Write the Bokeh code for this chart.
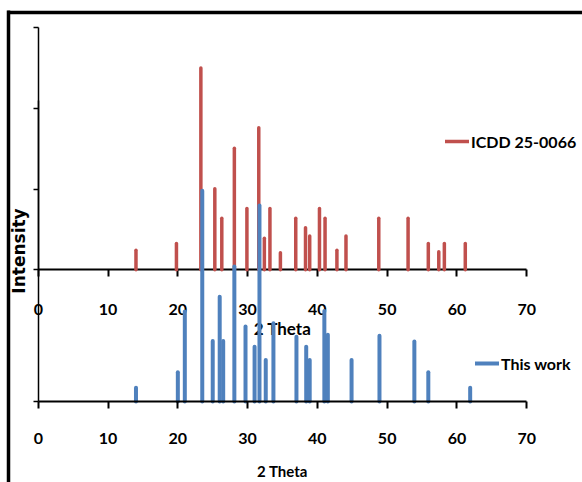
from bokeh.plotting import figure
from bokeh.models import Range1d, LinearAxis, FixedTicker, Legend, LegendItem
from bokeh.embed import file_html
from bokeh.resources import INLINE

# ---- data ----
icdd_theta = [14.0, 19.8, 23.3, 25.3, 26.3, 28.1, 29.9, 31.6, 32.4, 33.2, 34.7, 36.9,
              38.3, 38.9, 40.3, 41.1, 42.8, 44.1, 48.8, 53.0, 55.9, 57.4, 58.2, 61.2]
icdd_intensity = [9.7, 13.0, 100, 40.2, 25.5, 60.2, 30.4, 70.4, 15.6, 30.4, 8.5, 25.5,
                  20.8, 16.7, 30.4, 25.5, 9.7, 16.7, 25.5, 25.5, 13.0, 8.9, 13.0, 13.0]

work_theta = [14.0, 20.0, 21.0, 23.5, 25.0, 26.0, 26.5, 28.1, 29.7, 31.0, 31.7, 32.6,
              33.7, 37.0, 38.4, 38.9, 41.0, 41.5, 44.9, 48.9, 53.9, 55.9, 61.9]
work_intensity = [6.6, 13.9, 42.7, 100, 28.8, 49.7, 28.8, 64.1, 35.6, 26.0, 93.0, 19.8,
                  37.2, 30.8, 26.0, 19.8, 43.0, 31.7, 19.8, 31.3, 28.5, 13.9, 6.6]

x_ticks = [0, 10, 20, 30, 40, 50, 60, 70]
icdd_y_ticks = [0, 40, 80, 120]
series_names = ["ICDD 25-0066", "This work"]
x_title = "2 Theta"
y_title = "Intensity"

RED = "#C0504D"
BLUE = "#4F81BD"
FONT = "Lato"

p = figure(width=582, height=482,
           x_range=Range1d(-5.418, 78.0), y_range=Range1d(-38.38, 190.31),
           x_axis_type=None, y_axis_type=None,
           output_backend="svg", toolbar_location=None, min_border=0)
p.extra_y_ranges = {"top": Range1d(-105.35, 133.38)}
p.outline_line_color = None
p.background_fill_color = "white"
p.border_fill_color = "white"


def style_axis(ax, size="16px"):
    ax.major_label_text_font = FONT
    ax.major_label_text_font_style = "bold"
    ax.major_label_text_font_size = size
    ax.major_label_text_color = "black"
    ax.axis_label_text_font = FONT
    ax.axis_label_text_font_style = "bold"
    ax.axis_label_text_color = "black"
    ax.axis_line_color = "black"
    ax.major_tick_line_color = "black"
    ax.minor_tick_out = 0
    ax.minor_tick_in = 0
    ax.major_tick_in = 0


def hide_labels(ax):
    ax.major_label_text_font_size = "1px"
    ax.major_label_text_color = None
    ax.major_label_standoff = 0


# top chart x-axis (middle of page)
mid_ax = LinearAxis(y_range_name="top", fixed_location=0, bounds=(0, 70),
                    ticker=FixedTicker(ticks=x_ticks), axis_label=x_title)
style_axis(mid_ax)
mid_ax.axis_line_width = 2
mid_ax.major_tick_line_width = 2
mid_ax.major_tick_out = 7
mid_ax.major_label_standoff = 27
mid_ax.axis_label_standoff = 0
mid_ax.axis_label_text_font_size = "17px"
mid_ax.level = "underlay"
p.add_layout(mid_ax, "below")

# bottom chart x-axis
bot_ax = LinearAxis(fixed_location=0, bounds=(0, 70),
                    ticker=FixedTicker(ticks=x_ticks), axis_label=x_title)
style_axis(bot_ax)
bot_ax.axis_line_width = 2
bot_ax.major_tick_line_width = 2
bot_ax.major_tick_out = 7
bot_ax.major_label_standoff = 24
bot_ax.axis_label_standoff = 15
bot_ax.axis_label_text_font_size = "15px"
p.add_layout(bot_ax, "below")

# top chart y-axis
top_y = LinearAxis(y_range_name="top", fixed_location=0, bounds=(0, 120),
                   ticker=FixedTicker(ticks=icdd_y_ticks))
style_axis(top_y)
hide_labels(top_y)
top_y.axis_line_width = 1.5
top_y.major_tick_line_width = 1.5
top_y.major_tick_out = 5
p.add_layout(top_y, "left")

# bottom chart y-axis with the Intensity title
bot_y = LinearAxis(fixed_location=0, bounds=(0, 142.9),
                   ticker=FixedTicker(ticks=[0]), axis_label=y_title)
style_axis(bot_y)
hide_labels(bot_y)
bot_y.axis_line_width = 1.5
bot_y.major_tick_line_width = 1.5
bot_y.major_tick_out = 5
bot_y.axis_label_text_font = "DejaVu Sans"
bot_y.axis_label_text_font_size = "17px"
bot_y.axis_label_standoff = 5
p.add_layout(bot_y, "left")

# outer frame (left and top edges of the chart border)
for side, loc, bnds in (("left", -4.214, (-38.38, 185.5)), ("above", 184.76, (-4.4, 78.0))):
    b = LinearAxis(fixed_location=loc, bounds=bnds, ticker=FixedTicker(ticks=[]))
    b.major_tick_out = 0
    b.major_tick_in = 0
    b.minor_tick_out = 0
    b.minor_tick_in = 0
    b.major_label_text_font_size = "1px"
    b.major_label_text_color = None
    b.axis_line_width = 3.5
    b.axis_line_color = "black"
    p.add_layout(b, side)

# bars
r_red = p.segment(x0=icdd_theta, y0=0, x1=icdd_theta, y1=icdd_intensity,
                  y_range_name="top", line_color=RED, line_width=3.5, line_cap="round")
r_blue = p.segment(x0=work_theta, y0=0, x1=work_theta, y1=work_intensity,
                   line_color=BLUE, line_width=4, line_cap="round")


def make_legend(label, rend, loc):
    lg = Legend(items=[LegendItem(label=label, renderers=[rend])], location=loc)
    lg.background_fill_alpha = 0
    lg.border_line_color = None
    lg.padding = 0
    lg.margin = 0
    lg.spacing = 0
    lg.glyph_width = 24
    lg.glyph_height = 20
    lg.label_height = 20
    lg.label_standoff = 2
    lg.label_text_font = FONT
    lg.label_text_font_style = "bold"
    lg.label_text_font_size = "16px"
    lg.label_text_color = "black"
    return lg


p.add_layout(make_legend(series_names[0], r_red, (445, 331)), "center")
p.add_layout(make_legend(series_names[1], r_blue, (475, 109)), "center")

open("out.html", "w").write(file_html(p, INLINE))
